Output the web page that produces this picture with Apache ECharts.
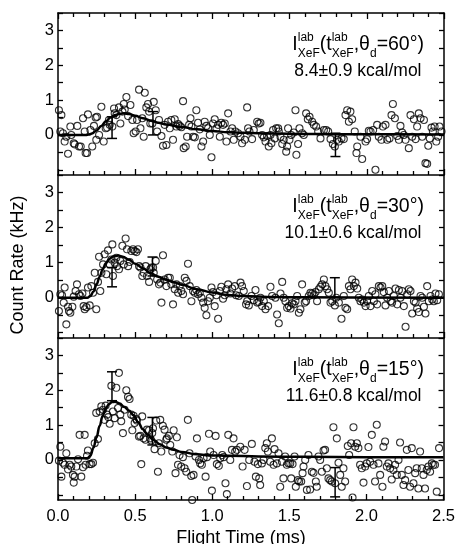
<!DOCTYPE html>
<html><head><meta charset="utf-8">
<script src="https://cdn.jsdelivr.net/npm/echarts@6/dist/echarts.min.js"></script>
<style>html,body{margin:0;padding:0;background:#fff}#c{width:458px;height:544px}</style>
</head><body><div id="c"></div>
<script>
const FONT = "'Liberation Sans', Arial, Helvetica, sans-serif";
const xTitle = 'Flight Time (ms)';
const yTitle = 'Count Rate (kHz)';
const yTickValues = [-1, -0.5, 0, 0.5, 1, 1.5, 2, 2.5, 3, 3.5];
const yLabelValues = [0, 1, 2, 3];
const angles = ['60', '30', '15'];
const energies = ['8.4±0.9 kcal/mol', '10.1±0.6 kcal/mol', '11.6±0.8 kcal/mol'];

// panel 1 (theta_d = 60°) : [flight time ms, count rate kHz]
const points60 = [[0.006,0.71],[0.015,0.10],[0.022,0.57],[0.032,0.05],[0.043,-0.19],[0.054,-0.05],[0.065,-0.54],[0.080,0.24],[0.086,0],[0.102,-0.24],[0.108,-0.27],[0.125,0.26],[0.136,-0.33],[0.147,-0.33],[0.162,0.48],[0.173,0.10],[0.179,-0.52],[0.188,-0.52],[0.194,0.59],[0.210,0.14],[0.222,-0.33],[0.233,0.26],[0.244,0.50],[0.248,-0.14],[0.253,0.52],[0.266,0],[0.281,0.81],[0.296,-0.19],[0.309,0.19],[0.318,0.21],[0.330,0.43],[0.335,0.29],[0.352,0.24],[0.363,0.76],[0.367,0.62],[0.378,0.57],[0.395,0.79],[0.404,0.33],[0.417,0.67],[0.426,0.89],[0.432,0.73],[0.443,1.09],[0.454,0.54],[0.469,0.86],[0.482,0.43],[0.490,0.05],[0.503,0.10],[0.512,0.43],[0.525,1.30],[0.534,0.19],[0.546,0.48],[0.555,-0.05],[0.562,1.21],[0.572,0.79],[0.583,0.89],[0.590,0.67],[0.598,0.33],[0.611,0.33],[0.620,0.95],[0.633,0.71],[0.642,0.10],[0.654,0.43],[0.670,-0.03],[0.680,-0.31],[0.691,0.29],[0.702,-0.29],[0.713,0.38],[0.724,0.19],[0.734,0.43],[0.745,-0.14],[0.756,0.45],[0.767,0.24],[0.778,0.31],[0.788,0.26],[0.799,0.22],[0.810,0.97],[0.814,-0.38],[0.827,-0.33],[0.836,-0.05],[0.849,0.29],[0.858,0.48],[0.864,0.24],[0.875,-0.05],[0.886,-0.07],[0.896,0.71],[0.907,0.35],[0.918,0.16],[0.929,-0.33],[0.940,-0.19],[0.950,0.38],[0.961,0.26],[0.972,0.19],[0.983,0],[0.994,-0.64],[1.004,0.33],[1.015,0.45],[1.026,0.19],[1.037,0.29],[1.048,-0.05],[1.058,0.35],[1.069,0.29],[1.080,0.33],[1.091,-0.19],[1.102,0.62],
[1.117,0.10],[1.128,0.19],[1.138,-0.14],[1.149,0.10],[1.166,0.05],[1.182,-0.05],[1.192,-0.24],[1.210,-0.14],[1.225,0.79],[1.231,0.19],[1.240,0.10],[1.257,-0.12],[1.268,0.14],[1.290,0.38],[1.300,0.33],[1.311,0.35],[1.322,0],[1.333,-0.07],[1.344,-0.19],[1.354,-0.03],[1.365,-0.33],[1.376,0],[1.382,-0.24],[1.393,0.14],[1.404,-0.10],[1.413,0.19],[1.426,0.19],[1.430,0.10],[1.441,-0.05],[1.452,-0.26],[1.462,-0.14],[1.478,-0.48],[1.484,-0.33],[1.490,0.19],[1.499,-0.14],[1.510,0],[1.527,0.07],[1.538,0.71],[1.544,-0.57],[1.555,-0.26],[1.564,0.19],[1.581,0.05],[1.592,0],[1.607,0.62],[1.618,0.45],[1.629,0.52],[1.646,0.38],[1.657,0.29],[1.672,0.24],[1.685,0.10],[1.700,-0.10],[1.722,0.14],[1.737,0.14],[1.750,0.10],[1.765,-0.12],[1.780,-0.26],[1.793,-0.33],[1.808,-0.14],[1.819,-0.19],[1.836,-0.10],[1.851,-0.12],[1.862,0.57],[1.873,0.71],[1.884,0.38],[1.894,0.67],[1.905,0.45],[1.922,0.10],[1.933,-0.52],[1.938,-0.33],[1.959,-0.05],[1.970,-0.69],[1.992,-0.19],[2.002,-0.12],[2.013,0.12],[2.024,0.10],[2.041,0.14],[2.056,-1.0],[2.067,0.29],[2.078,-0.05],[2.095,-0.14],[2.104,0.24],[2.121,0.29],[2.132,-0.14],[2.147,-0.10],[2.160,0.57],[2.169,0.89],[2.182,0.48],[2.197,-0.03],[2.208,-0.14],[2.218,0.26],[2.229,0.07],[2.240,0],[2.251,-0.14],[2.272,-0.38],[2.283,0.57],[2.294,-0.05],[2.305,0.45],[2.316,-0.12],[2.326,0.24],[2.337,0.62],[2.348,0.48],[2.359,-0.05],[2.370,0.43],[2.380,-0.81],[2.391,-0.83],[2.398,-0.31],[2.408,-0.10],[2.419,0.21],[2.428,0.10],[2.439,0.24],[2.450,-0.19],[2.462,-0.05],[2.471,0.24],[2.484,0.10]];

// panel 2 (theta_d = 30°)
const points30 = [[0.006,-0.38],[0.015,0.10],[0.026,0.07],[0.037,-0.14],[0.043,0.29],[0.054,-0.76],[0.065,-0.26],[0.071,-0.38],[0.080,-0.43],[0.093,-0.26],[0.102,0.03],[0.114,0.19],[0.123,0.38],[0.136,0.10],[0.145,0.05],[0.158,0.12],[0.166,-0.24],[0.173,-0.33],[0.184,-0.27],[0.194,0.29],[0.205,-0.22],[0.216,0.33],[0.227,0.14],[0.238,0.71],[0.248,-0.33],[0.259,0.45],[0.266,1.17],[0.274,0.19],[0.281,0.71],[0.292,0.95],[0.302,1.24],[0.313,0.67],[0.324,1.35],[0.335,0.95],[0.346,1.09],[0.352,1.52],[0.356,0.62],[0.367,1.00],[0.378,1.14],[0.382,0.90],[0.395,0.81],[0.404,1.05],[0.417,1.48],[0.426,0.95],[0.438,1.69],[0.447,1.38],[0.454,0.90],[0.464,1.02],[0.475,1.33],[0.486,1.38],[0.497,1.33],[0.508,1.30],[0.518,1.38],[0.525,0.90],[0.534,0.86],[0.546,0.62],[0.555,0.71],[0.568,0.90],[0.577,0.62],[0.590,0.45],[0.598,0.81],[0.605,0.86],[0.616,0.86],[0.620,0.71],[0.633,1.05],[0.642,0.52],[0.654,0.38],[0.663,0.43],[0.670,-0.14],[0.680,1.21],[0.691,0.52],[0.702,0.33],[0.713,0.57],[0.724,0.57],[0.734,0.38],[0.745,-0.19],[0.756,0.24],[0.767,0.38],[0.778,0.14],[0.788,0.33],[0.799,0.19],[0.810,0.10],[0.821,0.57],[0.832,0.48],[0.842,0.97],[0.853,0.33],[0.864,-0.10],[0.875,0.19],[0.886,0.14],[0.896,0.22],[0.907,0.10],[0.918,0.14],[0.929,0],[0.940,-0.14],[0.950,-0.29],[0.961,-0.50],[0.972,-0.10],[0.983,0],[0.994,0.29],[1.004,0.16],[1.015,-0.24],[1.026,0.07],[1.037,-0.60],[1.048,0.19],[1.058,0.31],[1.069,-0.03],[1.080,0.07],[1.091,0.24],[1.102,0.38],
[1.117,0.12],[1.128,0.26],[1.145,0.33],[1.154,0.07],[1.171,0.05],[1.182,0.43],[1.192,0.33],[1.203,0.19],[1.218,-0.19],[1.225,-0.10],[1.236,-0.22],[1.253,0.05],[1.268,-0.07],[1.279,0.22],[1.290,-0.14],[1.300,-0.12],[1.311,0],[1.322,-0.24],[1.333,-0.10],[1.344,-0.33],[1.361,-0.24],[1.376,0.31],[1.387,0.05],[1.408,0],[1.419,-0.48],[1.430,-0.73],[1.441,0.12],[1.452,0.45],[1.462,0],[1.473,-0.10],[1.484,-0.29],[1.495,-0.24],[1.506,-0.31],[1.516,-0.16],[1.527,-0.19],[1.538,-0.10],[1.549,0.05],[1.560,-0.43],[1.570,-0.33],[1.581,0.38],[1.598,-0.14],[1.607,-0.10],[1.624,0.05],[1.635,0.14],[1.646,0.12],[1.657,0.07],[1.668,0.16],[1.678,-0.10],[1.689,0.24],[1.700,0.31],[1.711,0.38],[1.722,0.52],[1.732,0.33],[1.743,0.24],[1.754,0.14],[1.765,-0.14],[1.776,-0.10],[1.793,-0.22],[1.802,0],[1.819,-0.14],[1.836,-0.60],[1.851,0.05],[1.862,-0.29],[1.873,-0.33],[1.884,0.33],[1.894,0.24],[1.905,0.52],[1.916,0.33],[1.927,0.43],[1.938,0.26],[1.948,0],[1.959,-0.10],[1.970,-0.05],[1.981,-0.14],[1.992,-0.24],[2.002,-0.10],[2.013,0.05],[2.024,-0.24],[2.035,0.19],[2.046,-0.10],[2.056,0.10],[2.067,-0.19],[2.078,0.33],[2.089,0.29],[2.100,0.33],[2.110,0.16],[2.121,-0.22],[2.132,0],[2.143,0.19],[2.154,-0.10],[2.164,-0.14],[2.175,0.05],[2.186,0.26],[2.197,-0.19],[2.208,0.22],[2.218,0],[2.229,0.19],[2.240,-0.24],[2.251,-0.83],[2.262,0.10],[2.272,0.24],[2.283,0.19],[2.294,-0.45],[2.305,-0.10],[2.316,-0.14],[2.326,-0.31],[2.337,-0.41],[2.348,0.05],[2.359,0],[2.370,-0.26],[2.380,-0.45],[2.391,0.33],[2.402,-0.10],[2.413,0.05],[2.424,-0.05],[2.434,-0.10],[2.445,0.12],[2.456,-0.07],[2.467,0.10]];

// panel 3 (theta_d = 15°)
const points15 = [[0.006,-0.02],[0.015,0.38],[0.022,-0.48],[0.032,-0.08],[0.043,-0.14],[0.054,0.19],[0.065,-0.27],[0.076,-0.14],[0.086,-0.19],[0.097,-0.43],[0.102,-0.65],[0.108,-0.48],[0.119,-0.19],[0.130,0.02],[0.140,0.72],[0.151,-0.48],[0.162,-0.21],[0.173,0.72],[0.179,-0.14],[0.188,0.12],[0.194,0.27],[0.205,-0.12],[0.216,-0.12],[0.227,-0.08],[0.238,0.48],[0.248,1.35],[0.259,0.60],[0.270,1.39],[0.281,1.54],[0.292,1.44],[0.302,1.15],[0.309,1.56],[0.318,1.30],[0.326,1.23],[0.335,1.04],[0.346,2.13],[0.356,1.39],[0.367,1.20],[0.378,2.07],[0.389,1.49],[0.395,2.50],[0.404,1.30],[0.410,1.11],[0.421,0.77],[0.432,1.44],[0.443,2.00],[0.454,1.81],[0.464,1.75],[0.475,1.30],[0.482,0.85],[0.490,1.27],[0.497,1.06],[0.508,1.17],[0.512,1.13],[0.525,0.67],[0.534,0.69],[0.540,-0.12],[0.546,1.25],[0.555,0.62],[0.568,0.58],[0.577,0.87],[0.590,0.85],[0.598,0.62],[0.605,0.56],[0.611,0.77],[0.616,0.91],[0.626,0.31],[0.637,1.13],[0.648,-0.34],[0.654,0.48],[0.663,1.15],[0.670,0.24],[0.680,0.98],[0.691,0.87],[0.702,0.58],[0.706,0.62],[0.719,0.69],[0.728,0.43],[0.741,0.24],[0.750,0.85],[0.762,-0.38],[0.771,0.65],[0.778,-0.14],[0.788,0.14],[0.799,-0.19],[0.810,0.08],[0.821,-0.24],[0.832,-0.34],[0.842,1.15],[0.853,0.19],[0.864,-0.46],[0.870,-1.15],[0.879,-0.43],[0.892,0.10],[0.901,0.62],[0.914,0],[0.922,-0.10],[0.933,-0.14],[0.944,0.05],[0.957,-0.48],[0.966,0.08],[0.979,0.75],[0.987,0.24],[0.998,-0.88],[1.009,0.14],[1.022,0.69],[1.030,-0.12],[1.043,-0.17],[1.052,0.05],[1.065,0.14],[1.074,0.08],[1.086,-0.67],[1.095,-0.98],[1.104,0.72],
[1.117,0],[1.128,0.29],[1.138,0.62],[1.149,0.24],[1.160,0.29],[1.182,0.38],[1.197,-0.19],[1.210,0.29],[1.225,-0.75],[1.240,0],[1.257,0.46],[1.274,-0.05],[1.283,-0.48],[1.296,-0.12],[1.305,-0.53],[1.311,-0.72],[1.322,-0.10],[1.333,0],[1.344,0.34],[1.354,0.48],[1.361,0.24],[1.376,-0.05],[1.387,0.62],[1.398,-0.14],[1.404,0.31],[1.419,-0.10],[1.430,0.19],[1.441,-0.77],[1.452,-0.05],[1.462,-0.53],[1.473,0.10],[1.484,-0.14],[1.495,-0.10],[1.506,-0.10],[1.512,-0.53],[1.521,-0.12],[1.534,0.10],[1.542,-0.77],[1.555,-0.58],[1.564,-0.62],[1.577,-0.62],[1.586,-0.38],[1.592,-0.19],[1.603,0],[1.614,-0.86],[1.624,0.14],[1.635,-0.85],[1.646,-0.34],[1.657,-0.37],[1.672,-0.62],[1.678,-0.77],[1.689,0.10],[1.700,0],[1.711,-0.34],[1.722,0.27],[1.732,0.29],[1.743,-0.24],[1.754,-0.53],[1.765,-0.58],[1.776,-0.62],[1.786,0.94],[1.797,-0.67],[1.808,0.62],[1.819,-0.08],[1.830,-0.43],[1.840,-0.77],[1.851,-0.24],[1.862,-0.62],[1.879,0.40],[1.888,0.14],[1.901,0.48],[1.910,-1.08],[1.916,0.94],[1.927,0.38],[1.938,0.48],[1.948,0.34],[1.959,-0.14],[1.970,-0.24],[1.981,-0.65],[1.992,-0.19],[2.002,-0.10],[2.013,0.37],[2.024,-0.05],[2.035,0.72],[2.046,-0.14],[2.056,-0.62],[2.067,1.01],[2.078,-0.10],[2.089,-0.43],[2.104,-0.77],[2.110,0.38],[2.121,0.53],[2.132,-0.19],[2.143,-0.10],[2.154,-0.24],[2.164,-0.56],[2.175,-0.29],[2.186,-0.14],[2.197,-0.43],[2.208,0],[2.218,0.50],[2.229,-0.43],[2.240,-0.72],[2.251,-0.58],[2.262,0.29],[2.272,-0.29],[2.283,-0.77],[2.294,0.34],[2.305,-0.67],[2.316,-0.38],[2.326,-0.24],[2.337,-0.82],[2.348,0.24],[2.359,-0.24],[2.370,-0.43],[2.380,-0.82],[2.391,-0.29],[2.402,-0.19],[2.413,-0.34],[2.424,-0.10],[2.434,-0.14],[2.445,-0.14],[2.456,-0.91],[2.471,0.34]];

// fitted curves
const fit60 = [[0,0],[0.1,0],[0.18,0],[0.2,0.01],[0.22,0.04],[0.25,0.13],[0.28,0.26],[0.31,0.39],[0.34,0.5],[0.37,0.57],[0.4,0.61],[0.43,0.62],[0.46,0.6],[0.5,0.55],[0.55,0.48],[0.6,0.41],[0.65,0.35],[0.7,0.3],[0.8,0.23],[0.9,0.16],[1.0,0.11],[1.1,0.08],[1.2,0.06],[1.4,0.04],[1.6,0.03],[1.8,0.02],[2.0,0.02],[2.5,0.01]];
const fit30 = [[0,0],[0.1,0],[0.19,0],[0.21,0.05],[0.23,0.18],[0.25,0.38],[0.27,0.6],[0.29,0.82],[0.31,0.98],[0.33,1.1],[0.36,1.18],[0.39,1.2],[0.42,1.17],[0.46,1.08],[0.5,0.97],[0.55,0.84],[0.6,0.7],[0.65,0.6],[0.7,0.52],[0.75,0.44],[0.8,0.37],[0.9,0.24],[1.0,0.15],[1.1,0.08],[1.2,0.05],[1.4,0.02],[1.6,0.01],[2.5,0]];
const fit15 = [[0,0.05],[0.1,0.05],[0.19,0.05],[0.21,0.12],[0.23,0.35],[0.25,0.65],[0.27,0.98],[0.29,1.27],[0.31,1.48],[0.33,1.6],[0.35,1.66],[0.37,1.67],[0.4,1.62],[0.43,1.52],[0.46,1.42],[0.49,1.28],[0.52,1.08],[0.55,0.88],[0.58,0.72],[0.62,0.57],[0.66,0.45],[0.7,0.36],[0.75,0.29],[0.8,0.23],[0.9,0.16],[1.0,0.13],[1.1,0.12],[1.3,0.1],[1.6,0.09],[2.0,0.08],[2.5,0.08]];

// error bars: [time, low, high]
const err60 = [[0.35,-0.10,0.52],[0.615,0.0,0.67],[1.797,-0.62,0.05]];
const err30 = [[0.35,0.31,0.86],[0.612,0.62,1.16],[1.793,0.02,0.57]];
const err15 = [[0.35,1.70,2.53],[0.612,0.43,1.22],[1.797,-1.06,-0.22]];

const panels = [
  {pts: points60, fit: fit60, err: err60},
  {pts: points30, fit: fit30, err: err30},
  {pts: points15, fit: fit15, err: err15}
];
const tops = [13, 175, 338];
const heights = [162, 163, 162];
const black = '#000';

const chart = echarts.init(document.getElementById('c'), null, {renderer: 'canvas'});
const grid = [], xAxis = [], yAxis = [], series = [], graphic = [];

function errItem(params, api) {
  const x = api.value(0), lo = api.value(1), hi = api.value(2);
  const a = api.coord([x, lo]), b = api.coord([x, hi]);
  const hw = 5, st = {stroke: black, lineWidth: 1.5};
  return {type: 'group', children: [
    {type: 'line', shape: {x1: a[0], y1: a[1], x2: b[0], y2: b[1]}, style: st},
    {type: 'line', shape: {x1: a[0] - hw, y1: a[1], x2: a[0] + hw, y2: a[1]}, style: st},
    {type: 'line', shape: {x1: b[0] - hw, y1: b[1], x2: b[0] + hw, y2: b[1]}, style: st}
  ]};
}

const ctx = document.createElement('canvas').getContext('2d');
function tw(s, size) { ctx.font = size + 'px ' + FONT; return ctx.measureText(s).width; }
function txt(s, x, baseline, size, align) {
  return {type: 'text', x: x, y: baseline - 0.35 * size, z: 100,
    style: {text: s, font: size + 'px ' + FONT, fill: black, textAlign: align || 'left', textVerticalAlign: 'middle'}};
}
function annotation(top, angle, energy) {
  const big = 19.5, small = 12, right = 424;
  const B = top + 38, supB = B - 9, subB = B + 6.5;
  const parts = [
    {t: 'I'}, {sup: 'lab', sub: 'XeF'}, {t: '(t'}, {sup: 'lab', sub: 'XeF'},
    {t: ',θ'}, {sub: 'd'}, {t: '=' + angle + '°)'}
  ];
  let total = 0;
  parts.forEach(p => {
    p.w = p.t !== undefined ? tw(p.t, big) : Math.max(p.sup ? tw(p.sup, small) : 0, tw(p.sub, small));
    total += p.w;
  });
  let x = right - total;
  parts.forEach(p => {
    if (p.t !== undefined) graphic.push(txt(p.t, x, B, big));
    else {
      if (p.sup) graphic.push(txt(p.sup, x, supB, small));
      graphic.push(txt(p.sub, x, subB, small));
    }
    x += p.w;
  });
  graphic.push(txt(energy, 421.5, top + 64.5, 17.5, 'right'));
}

const lineSt = {color: black, width: 1.5};
panels.forEach((p, i) => {
  grid.push({left: 58, width: 386, top: tops[i], height: heights[i]});
  xAxis.push({
    gridIndex: i, type: 'value', min: 0, max: 2.5, interval: 0.5, position: 'bottom',
    axisLine: {show: true, onZero: false, lineStyle: lineSt},
    axisTick: {show: true, inside: true, length: 6, lineStyle: {color: black, width: 1.3}},
    minorTick: {show: true, splitNumber: 5, length: 4, lineStyle: {color: black, width: 1.3}},
    splitLine: {show: false}, minorSplitLine: {show: false},
    axisLabel: {show: i === 2, margin: 8, fontSize: 16.5, fontFamily: FONT, color: black,
      formatter: v => v.toFixed(1)}
  });
  yAxis.push({
    gridIndex: i, type: 'value', min: -1.15, max: 3.5, position: 'left',
    axisLine: {show: true, onZero: false, lineStyle: lineSt},
    axisTick: {show: true, inside: true, length: 5, customValues: yTickValues, lineStyle: {color: black, width: 1.3}},
    axisLabel: {show: true, customValues: yLabelValues, margin: 4, fontSize: 16.5, fontFamily: FONT, color: black},
    splitLine: {show: false}
  });
  yAxis.push({
    gridIndex: i, type: 'value', min: -1.15, max: 3.5, position: 'right',
    axisLine: {show: true, onZero: false, lineStyle: lineSt},
    axisTick: {show: true, inside: true, length: 5, customValues: yTickValues, lineStyle: {color: black, width: 1.3}},
    axisLabel: {show: false},
    splitLine: {show: false}
  });
  const xi = i, yi = i * 2;
  series.push({
    type: 'scatter', xAxisIndex: xi, yAxisIndex: yi, data: p.pts, symbol: 'circle', symbolSize: 7,
    itemStyle: {color: 'rgba(0,0,0,0)', borderColor: black, borderWidth: 1.1}, z: 2, silent: true
  });
  series.push({
    type: 'line', xAxisIndex: xi, yAxisIndex: yi, data: p.fit, showSymbol: false, smooth: 0.4,
    smoothMonotone: 'x', lineStyle: {color: black, width: 2.5}, z: 3, silent: true
  });
  series.push({
    type: 'custom', xAxisIndex: xi, yAxisIndex: yi, data: p.err, renderItem: errItem,
    encode: {x: 0, y: [1, 2]}, z: 4, silent: true
  });
  annotation(tops[i], angles[i], energies[i]);
});
// top axis of the first panel
xAxis.push({
  gridIndex: 0, type: 'value', min: 0, max: 2.5, interval: 0.5, position: 'top',
  axisLine: {show: true, onZero: false, lineStyle: lineSt},
  axisTick: {show: true, inside: true, length: 6, lineStyle: {color: black, width: 1.3}},
  minorTick: {show: true, splitNumber: 5, length: 4, lineStyle: {color: black, width: 1.3}},
  splitLine: {show: false}, minorSplitLine: {show: false}, axisLabel: {show: false}
});

graphic.push({type: 'text', x: 241, y: 538, style: {text: xTitle, font: '18px ' + FONT, fill: black, textAlign: 'center', textVerticalAlign: 'middle'}});
graphic.push({type: 'text', x: 18.5, y: 265, rotation: Math.PI / 2, style: {text: yTitle, font: '18px ' + FONT, fill: black, textAlign: 'center', textVerticalAlign: 'middle'}});

chart.setOption({
  backgroundColor: '#fff', animation: false,
  grid, xAxis, yAxis, series, graphic
});
</script></body></html>
